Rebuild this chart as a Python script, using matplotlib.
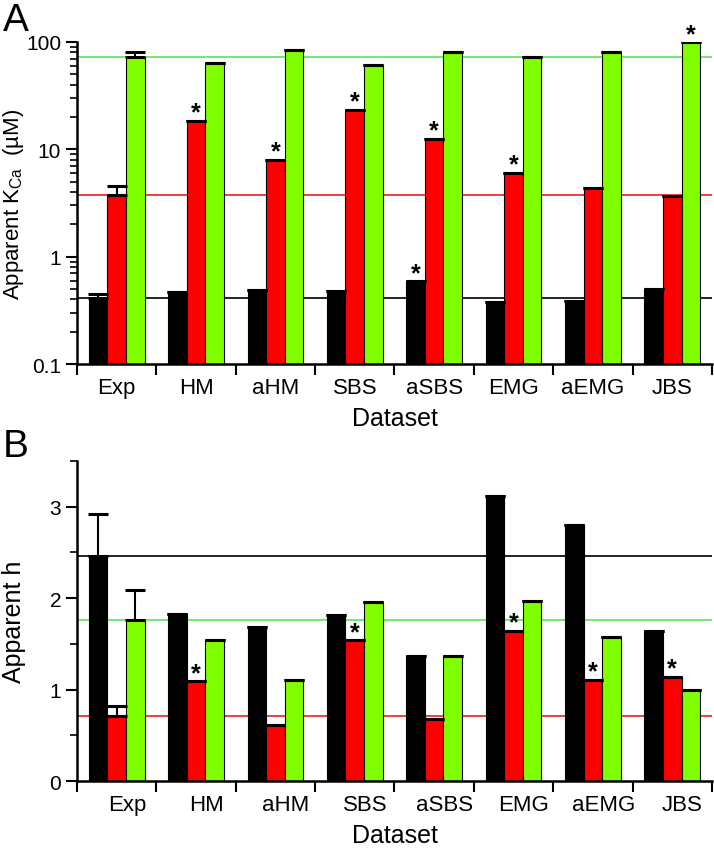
import matplotlib
matplotlib.use('Agg')
import matplotlib.pyplot as plt
import numpy as np
from matplotlib.ticker import FixedLocator, NullFormatter, FuncFormatter, MultipleLocator

plt.rcParams['font.family'] = ['Liberation Sans', 'DejaVu Sans']
plt.rcParams['mathtext.default'] = 'regular'

datasets = ['Exp', 'HM', 'aHM', 'SBS', 'aSBS', 'EMG', 'aEMG', 'JBS']

# panel A: apparent K_Ca (uM)
kca_black = [0.41, 0.467, 0.494, 0.48, 0.588, 0.381, 0.389, 0.50]
kca_red = [3.76, 18.3, 7.94, 23.2, 12.5, 6.0, 4.37, 3.7]
kca_green = [72.9, 63.5, 84.1, 60.8, 80.0, 71.8, 80.5, 99.0]
kca_black_err = [0.035, 0, 0, 0, 0, 0, 0, 0]
kca_red_err = [0.8, 0, 0, 0, 0, 0, 0, 0]
kca_green_err = [7.5, 0, 0, 0, 0, 0, 0, 0]
kca_black_star = [0, 0, 0, 0, 1, 0, 0, 0]
kca_red_star = [0, 1, 1, 1, 1, 1, 0, 0]
kca_green_star = [0, 0, 0, 0, 0, 0, 0, 1]

# panel B: apparent h
h_black = [2.46, 1.83, 1.68, 1.82, 1.37, 3.12, 2.80, 1.64]
h_red = [0.716, 1.09, 0.615, 1.54, 0.68, 1.64, 1.11, 1.14]
h_green = [1.764, 1.54, 1.10, 1.96, 1.37, 1.97, 1.575, 1.0]
h_black_err = [0.46, 0, 0, 0, 0, 0, 0, 0]
h_red_err = [0.10, 0, 0, 0, 0, 0, 0, 0]
h_green_err = [0.33, 0, 0, 0, 0, 0, 0, 0]
h_black_star = [0, 0, 0, 0, 0, 0, 0, 0]
h_red_star = [0, 1, 0, 1, 0, 1, 1, 1]
h_green_star = [0, 0, 0, 0, 0, 0, 0, 0]

bar_colors = ['black', '#ff0000', '#80ff00']
line_colors = ['#111111', '#e83030', '#66e866']
bw = 0.235


def draw_panel(ax, series, errs, stars, label_shift):
    x = np.arange(1, len(datasets) + 1)
    for i, (vals, err, st) in enumerate(zip(series, errs, stars)):
        xs = x + (i - 1) * bw
        ax.axhline(vals[0], color=line_colors[i], lw=1.3, zorder=0.5)
        ax.bar(xs, vals, width=bw, color=bar_colors[i], edgecolor='black',
               linewidth=0.8, zorder=2)
        ax.errorbar(xs, vals, yerr=[np.zeros(len(vals)), err], fmt='none',
                    ecolor='black', elinewidth=1.5, capsize=7, capthick=2.2,
                    zorder=3)
        for xv, v, e, s in zip(xs, vals, err, st):
            if s:
                ax.annotate('*', (xv, v + e), xytext=(0, 1),
                            textcoords='offset points', ha='center',
                            va='baseline', fontsize=18, fontweight='bold')
    ax.set_xlim(0.5, len(datasets) + 0.5)
    ax.xaxis.set_major_locator(FixedLocator(np.arange(0.5, len(datasets) + 1)))
    ax.xaxis.set_major_formatter(NullFormatter())
    ax.xaxis.set_minor_locator(FixedLocator(x + label_shift))
    ax.set_xticklabels(datasets, minor=True)
    ax.tick_params(axis='x', which='minor', length=0, labelsize=16, pad=9)
    ax.tick_params(axis='x', which='major', length=8, width=1.5, direction='out')
    ax.tick_params(axis='y', which='major', length=8, width=1.5, labelsize=15)
    ax.tick_params(axis='y', which='minor', length=5, width=1.2)
    for side in ['top', 'right']:
        ax.spines[side].set_visible(False)
    for side in ['left', 'bottom']:
        ax.spines[side].set_linewidth(1.8)
    ax.set_xlabel('Dataset', fontsize=18, labelpad=6)


fig = plt.figure(figsize=(7.14, 8.53), dpi=100)

axA = fig.add_axes([0.108, 0.572, 0.889, 0.3776])
axA.set_yscale('log')
draw_panel(axA, [kca_black, kca_red, kca_green],
           [kca_black_err, kca_red_err, kca_green_err],
           [kca_black_star, kca_red_star, kca_green_star], 0.0)
axA.set_ylim(0.1, 100)
axA.yaxis.set_major_formatter(FuncFormatter(lambda v, p: '%g' % v))
axA.yaxis.set_minor_formatter(NullFormatter())
axA.set_ylabel(r'Apparent K$_{Ca}$  (µM)', fontsize=16)
axA.yaxis.set_label_coords(-0.08, 0.5)

axB = fig.add_axes([0.108, 0.0832, 0.889, 0.3752])
draw_panel(axB, [h_black, h_red, h_green],
           [h_black_err, h_red_err, h_green_err],
           [h_black_star, h_red_star, h_green_star], 0.13)
axB.set_ylim(0, 3.5)
axB.yaxis.set_major_locator(MultipleLocator(1))
axB.yaxis.set_minor_locator(MultipleLocator(0.5))
axB.set_ylabel('Apparent h', fontsize=18)
axB.yaxis.set_label_coords(-0.08, 0.5)

fig.text(0.004, 0.997, 'A', fontsize=28, va='top', ha='left')
fig.text(0.004, 0.497, 'B', fontsize=28, va='top', ha='left')

fig.savefig('out.png', dpi=100)
